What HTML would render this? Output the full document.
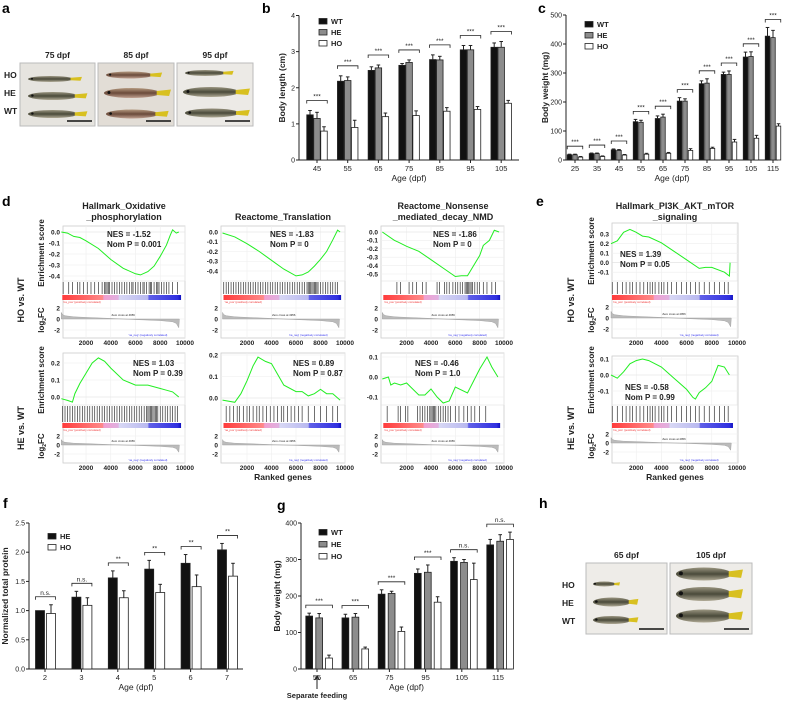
<!DOCTYPE html>
<html><head><meta charset="utf-8"><style>
html,body{margin:0;padding:0;background:#fff;}
svg{display:block;font-family:"Liberation Sans",Arial,sans-serif;}
</style></head><body>
<svg id="fig" width="786" height="701" viewBox="0 0 786 701" xmlns="http://www.w3.org/2000/svg">
<defs>
<linearGradient id="fishBody" x1="0" y1="0" x2="0" y2="1"><stop offset="0" stop-color="#9a9580"/><stop offset="0.5" stop-color="#4a4a3a"/><stop offset="1" stop-color="#b0aa95"/></linearGradient>
<linearGradient id="fishBody2" x1="0" y1="0" x2="0" y2="1"><stop offset="0" stop-color="#b59a80"/><stop offset="0.5" stop-color="#6a4a3a"/><stop offset="1" stop-color="#c0a090"/></linearGradient>
<linearGradient id="cbar" x1="0" y1="0" x2="1" y2="0"><stop offset="0" stop-color="#ff3b3b"/><stop offset="0.34" stop-color="#ff8a8a"/><stop offset="0.35" stop-color="#f0a0d0"/><stop offset="0.47" stop-color="#e0b0e0"/><stop offset="0.48" stop-color="#d8d8f4"/><stop offset="0.72" stop-color="#b8b8f0"/><stop offset="0.73" stop-color="#6060e8"/><stop offset="0.97" stop-color="#3030e0"/><stop offset="1" stop-color="#1010c0"/></linearGradient>
</defs>
</svg>
<script>
// ---------- bar chart data ----------
const bCats=['45','55','65','75','85','95','105'];
const bWT=[1.25,2.18,2.48,2.62,2.78,3.05,3.12];
const bHE=[1.15,2.2,2.55,2.7,2.77,3.05,3.12];
const bHO=[0.8,0.9,1.2,1.23,1.35,1.4,1.57];
const bWTe=[0.12,0.15,0.1,0.05,0.13,0.12,0.12];
const bHEe=[0.17,0.1,0.08,0.07,0.1,0.12,0.16];
const bHOe=[0.12,0.2,0.1,0.13,0.1,0.08,0.08];
const bSig=['***','***','***','***','***','***','***'];
const bTicks=[0,1,2,3,4];

const cCats=['25','35','45','55','65','75','85','95','105','115'];
const cWT=[18,22,35,132,143,203,263,295,355,427];
const cHE=[18,22,33,130,148,203,265,295,357,422];
const cHO=[10,12,17,20,23,33,40,62,75,117];
const cWTe=[2,2,3,8,9,12,10,8,17,30];
const cHEe=[2,2,3,7,10,8,15,12,16,25];
const cHOe=[2,2,2,3,3,6,4,9,10,8];
const cSig=['***','***','***','***','***','***','***','***','***','***'];
const cTicks=[0,100,200,300,400,500];

const fCats=['2','3','4','5','6','7'];
const fHE=[1.0,1.23,1.56,1.71,1.81,2.04];
const fHO=[0.95,1.09,1.22,1.31,1.41,1.59];
const fHEe=[0,0.1,0.12,0.15,0.15,0.11];
const fHOe=[0.15,0.13,0.12,0.14,0.2,0.22];
const fSig=['n.s.','n.s.','**','**','**','**'];
const fTicks=[0,0.5,1.0,1.5,2.0,2.5];

const gCats=['55','65','75','95','105','115'];
const gWT=[145,140,205,262,295,340];
const gHE=[140,142,207,265,292,350];
const gHO=[30,55,103,183,245,355];
const gWTe=[8,10,12,12,10,15];
const gHEe=[12,10,6,20,8,18];
const gHOe=[8,5,12,15,45,20];
const gSig=['***','***','***','***','n.s.','n.s.'];
const gTicks=[0,100,200,300,400];

// ---------- GSEA data ----------
const rankTicks=[2000,4000,6000,8000,10000];
const p1tR=[0,500,1000,1500,2000,3000,4000,5000,6000,6400,7000,7500,8000,8500,8800,9000,9300,9500];
const p1tES=[0,-0.01,-0.04,-0.05,-0.08,-0.15,-0.25,-0.33,-0.38,-0.39,-0.36,-0.31,-0.22,-0.12,-0.03,0.02,-0.01,0.0];
const p2tR=[0,1000,2000,3000,4000,5000,6000,6500,7000,7500,8000,8500,9000,9400,9600];
const p2tES=[-0.01,-0.05,-0.12,-0.2,-0.29,-0.38,-0.45,-0.44,-0.41,-0.35,-0.28,-0.2,-0.08,0.02,0.0];
const p3tR=[0,1000,1300,2000,3000,4000,5000,6000,6500,7000,7500,8000,8300,8800,9200,9600];
const p3tES=[0,-0.1,-0.12,-0.17,-0.23,-0.33,-0.43,-0.53,-0.52,-0.52,-0.4,-0.28,-0.16,-0.1,0.02,0.0];
const etR=[0,500,1000,1500,2000,2500,3000,4000,5000,6000,7000,7500,8000,9000,9400,9450];
const etES=[0.2,0.23,0.32,0.35,0.32,0.28,0.27,0.21,0.12,0.03,-0.06,-0.05,-0.05,-0.1,-0.14,0.0];
const p1bR=[0,500,900,1100,1500,2000,2500,3000,3500,4000,5000,6000,7000,8000,8500,9000,9500];
const p1bES=[-0.01,-0.02,-0.03,0.02,0.08,0.14,0.2,0.23,0.21,0.17,0.1,0.07,0.07,0.05,0.04,0.03,0.0];
const p2bR=[0,1000,1500,2000,2500,2900,3500,4000,5000,6000,6500,7000,7500,8000,8500,9000,9600];
const p2bES=[-0.01,-0.02,0.02,0.08,0.15,0.19,0.17,0.16,0.06,0.03,0.03,0.01,0.02,0.04,0.02,0.02,-0.01];
const p3bR=[0,500,700,1000,1500,2000,2500,3000,3500,4000,4500,5000,5500,6000,7000,7500,8000,8600,9000,9500];
const p3bES=[-0.01,0.0,-0.04,-0.03,-0.04,-0.03,-0.06,-0.09,-0.09,-0.06,-0.1,-0.13,-0.12,-0.05,-0.08,-0.02,0.04,0.1,0.05,0.0];
const ebR=[0,500,1000,1500,2000,2500,3000,4000,5000,6000,6500,6700,7000,7500,8000,8500,9000,9400];
const ebES=[0,-0.02,0.02,0.07,0.09,0.1,0.09,0.05,-0.02,-0.09,-0.14,-0.15,-0.11,-0.08,-0.04,0.06,0.05,0.0];
const hitsA=[150,600,900,1300,1500,1800,2100,2400,2700,3000,3300,3500,3600,3700,3800,3900,4100,4300,4500,4700,4900,5100,5300,5500,5700,5800,6000,6200,6400,6600,6700,6900,7100,7200,7300,7500,7700,7800,7900,8100,8300,8500,8700,9000,9400];
const hitsB=[100,300,500,700,900,1100,1300,1500,1700,1900,2100,2300,2500,2700,2900,3100,3300,3500,3700,3900,4100,4300,4500,4700,4900,5100,5300,5500,5700,5900,6100,6300,6500,6700,6900,7000,7100,7200,7300,7400,7500,7600,7700,7800,8000,8200,8400,8600,8800,9000,9200,9400];
const hitsC=[1200,1500,2200,2500,2800,3300,3600,4500,4700,5100,5300,5500,5800,6000,6200,6400,6600,6800,6900,7000,7100,7200,7300,7400,7600,7800,8000,8300,8600,9000,9300];
const hitsD=[100,500,900,1200,1500,1700,2000,2300,2600,2900,3100,3300,3500,3800,4000,4200,4500,4800,5200,5600,6000,6300,6700,7000,7400,7800,8200,8600,9000,9300];
const hitsE=[300,600,900,1200,1400,1700,2000,2200,2500,2800,3000,3300,3600,3900,4200,4500,4800,5000,5300,5600,5900,6200,6500,7000,7500,8000,8500,9000,9400];
const hitsF=[400,1300,1500,1900,2100,2900,3100,3300,3500,3700,3900,4000,4100,4200,4300,4400,4600,4800,5000,5200,5400,5600,6000,6300,6700,7000,7300,7600,8000,8500];
const fcR=[0,100,300,1000,2000,3000,4000,5000,6000,7000,8000,9000,9300,9500,9550];
const fcV=[1.2,0.8,0.6,0.4,0.3,0.2,0.1,0,-0.1,-0.2,-0.3,-0.5,-0.8,-1.6,0];

// ---------- helpers ----------
const NS='http://www.w3.org/2000/svg';
const root=document.getElementById('fig');
function mk(tag,attrs,name,parent){
  const el=document.createElementNS(NS,tag);
  for(const k in attrs) el.setAttribute(k,attrs[k]);
  
  
  (parent||root).appendChild(el);
  return el;
}
function txt(x,y,s,size,name,opt){
  opt=opt||{};
  const t=mk('text',{x:x,y:y,'font-size':size,'font-weight':opt.w||'bold','text-anchor':opt.a||'start',fill:opt.fill||'#222'},name,opt.p);
  if(opt.rot){t.setAttribute('transform','rotate(-90 '+x+' '+y+')');}
  t.textContent=s;
  return t;
}

// ---------- bar chart ----------
function barChart(cfg){
  const g=mk('g',{},cfg.name);
  const ys=v=>cfg.y0-(v/cfg.ymax)*(cfg.y0-cfg.yTop);
  mk('line',{x1:cfg.ax,y1:cfg.yTop,x2:cfg.ax,y2:cfg.y0,stroke:'#222','stroke-width':1},'y-axis',g);
  mk('line',{x1:cfg.ax,y1:cfg.y0,x2:cfg.axEnd,y2:cfg.y0,stroke:'#222','stroke-width':1},'x-axis',g);
  cfg.ticks.forEach(t=>{
    const y=ys(t);
    mk('line',{x1:cfg.ax-3,y1:y,x2:cfg.ax,y2:y,stroke:'#222'},'y-tick',g);
    txt(cfg.ax-4,y+2.5,cfg.tickFmt?cfg.tickFmt(t):String(t),7,'y-tick-label',{a:'end',p:g,w:'normal'});
  });
  cfg.cats.forEach((c,i)=>{
    const cx=cfg.cx0+i*cfg.step;
    mk('line',{x1:cx,y1:cfg.y0,x2:cx,y2:cfg.y0+3,stroke:'#222'},'x-tick',g);
    txt(cx,cfg.y0+11,c,7.5,'x-tick-label',{a:'middle',p:g,w:'normal'});
    let mx=0;
    cfg.series.forEach((s,j)=>{
      const v=s.vals[i],e=s.errs[i];
      const x=cx+cfg.offs[j]-cfg.bw/2;
      const y=ys(v);
      if(e>0){
        mk('line',{x1:cx+cfg.offs[j],y1:y,x2:cx+cfg.offs[j],y2:ys(v+e),stroke:'#222','stroke-width':1},'error-bar',g);
        mk('line',{x1:cx+cfg.offs[j]-1.8,y1:ys(v+e),x2:cx+cfg.offs[j]+1.8,y2:ys(v+e),stroke:'#222','stroke-width':1},'error-cap',g);
      }
      mk('rect',{x:x,y:y,width:cfg.bw,height:cfg.y0-y,fill:s.fill,stroke:'#222','stroke-width':0.8},'bar-'+s.key+'-'+c,g);
      mx=Math.max(mx,v+e);
    });
    const bl=cx+cfg.offs[0]-cfg.bw/2, br=cx+cfg.offs[cfg.offs.length-1]+cfg.bw/2;
    const by=ys(mx)-cfg.sigGap;
    mk('path',{d:'M'+bl+' '+(by+3)+'V'+by+'H'+br+'V'+(by+3),fill:'none',stroke:'#222','stroke-width':0.8},'significance-bracket',g);
    txt((bl+br)/2,by-2,cfg.sig[i],6.5,'significance-label',{a:'middle',p:g,w:'normal'});
  });
  cfg.series.forEach((s,j)=>{
    const ly=cfg.legY+j*cfg.legStep;
    mk('rect',{x:cfg.legX,y:ly-3.5,width:8,height:5.5,fill:s.fill,stroke:'#222','stroke-width':0.8},'legend-swatch-'+s.key,g);
    txt(cfg.legX+12,ly+2,s.label,7.5,'legend-label-'+s.key,{p:g});
  });
  txt(cfg.ylx,(cfg.yTop+cfg.y0)/2,cfg.ylabel,8.5,'y-axis-title',{a:'middle',rot:true,p:g});
  txt((cfg.ax+cfg.axEnd)/2,cfg.xly,'Age (dpf)',8.5,'x-axis-title',{a:'middle',p:g,w:'normal'});
}

barChart({name:'panel-b-body-length',ax:299,axEnd:519,y0:160,yTop:15.5,ymax:4,ticks:bTicks,cats:bCats,cx0:317,step:30.7,bw:6.5,offs:[-7,0,7],
  series:[{key:'wt',label:'WT',vals:bWT,errs:bWTe,fill:'#111'},{key:'he',label:'HE',vals:bHE,errs:bHEe,fill:'#8c8c8c'},{key:'ho',label:'HO',vals:bHO,errs:bHOe,fill:'#fff'}],
  sig:bSig,sigGap:10,legX:319,legY:22,legStep:11,ylx:285,ylabel:'Body length (cm)',xly:181});
barChart({name:'panel-c-body-weight',ax:566,axEnd:778,y0:160,yTop:15,ymax:500,ticks:cTicks,cats:cCats,cx0:575,step:22,bw:4.5,offs:[-5.5,0,5.5],
  series:[{key:'wt',label:'WT',vals:cWT,errs:cWTe,fill:'#111'},{key:'he',label:'HE',vals:cHE,errs:cHEe,fill:'#8c8c8c'},{key:'ho',label:'HO',vals:cHO,errs:cHOe,fill:'#fff'}],
  sig:cSig,sigGap:8,legX:585,legY:25,legStep:11,ylx:548,ylabel:'Body weight (mg)',xly:181});
barChart({name:'panel-f-total-protein',ax:29,axEnd:243,y0:669,yTop:523,ymax:2.5,ticks:fTicks,tickFmt:t=>t.toFixed(1),cats:fCats,cx0:45,step:36.4,bw:9,offs:[-5,6],
  series:[{key:'he',label:'HE',vals:fHE,errs:fHEe,fill:'#111'},{key:'ho',label:'HO',vals:fHO,errs:fHOe,fill:'#fff'}],
  sig:fSig,sigGap:8,legX:48,legY:537,legStep:11,ylx:8,ylabel:'Normalized total protein',xly:690});
barChart({name:'panel-g-body-weight-feeding',ax:301,axEnd:512,y0:669,yTop:523,ymax:400,ticks:gTicks,cats:gCats,cx0:317,step:36.2,bw:6.8,offs:[-7.8,2.2,12],
  series:[{key:'wt',label:'WT',vals:gWT,errs:gWTe,fill:'#111'},{key:'he',label:'HE',vals:gHE,errs:gHEe,fill:'#8c8c8c'},{key:'ho',label:'HO',vals:gHO,errs:gHOe,fill:'#fff'}],
  sig:gSig,sigGap:8,legX:319,legY:533,legStep:12,ylx:280,ylabel:'Body weight (mg)',xly:690});
mk('path',{d:'M317 689V677M314.5 680L317 676L319.5 680',fill:'none',stroke:'#222','stroke-width':1},'separate-feeding-arrow');
txt(317,698,'Separate feeding',7.5,'separate-feeding-label',{a:'middle'});

// ---------- GSEA ----------
function gsea(c){
  const g=mk('g',{},c.name);
  const xr=r=>c.xs0+r*(c.xs1-c.xs0)/10000;
  const ye=v=>c.zeroY-v*c.per01*10;
  const yf=v=>c.fc0-v*c.fcUnit;
  mk('rect',{x:c.bx0,y:c.esTop,width:c.bx1-c.bx0,height:c.fcBot-c.esTop,fill:'#fff',stroke:'#ccc','stroke-width':0.8},'plot-frame',g);
  rankTicks.forEach(r=>{
    mk('line',{x1:xr(r),y1:c.esTop,x2:xr(r),y2:c.esBot,stroke:'#eee','stroke-width':0.6},'grid-v',g);
    mk('line',{x1:xr(r),y1:c.fcTop,x2:xr(r),y2:c.fcBot,stroke:'#eee','stroke-width':0.6},'grid-v',g);
    txt(xr(r),c.fcBot+7,String(r),6.5,'rank-tick-label',{a:'middle',p:g});
  });
  c.ticks.forEach(t=>{
    mk('line',{x1:c.bx0,y1:ye(t),x2:c.bx1,y2:ye(t),stroke:t===0?'#ddd':'#eee','stroke-width':0.6},'grid-h',g);
    txt(c.bx0-3,ye(t)+2.3,t.toFixed(1),6.5,'es-tick-label',{a:'end',p:g});
  });
  mk('line',{x1:c.bx0,y1:c.esBot,x2:c.bx1,y2:c.esBot,stroke:'#ddd','stroke-width':0.6},'es-divider',g);
  let d='';
  c.r.forEach((r,i)=>{d+=(i?'L':'M')+xr(r).toFixed(1)+' '+ye(c.es[i]).toFixed(1);});
  mk('path',{d:d,fill:'none',stroke:'#22ee22','stroke-width':1},'enrichment-curve',g);
  c.hits.forEach(h=>{mk('line',{x1:xr(h),y1:c.esBot+1,x2:xr(h),y2:c.barTop-1,stroke:'#333','stroke-width':0.7},'gene-hit',g);});
  mk('rect',{x:xr(0)+1,y:c.barTop,width:xr(9600)-xr(0),height:5,fill:'url(#cbar)'},'rank-colorbar',g);
  txt(xr(150),c.barTop+8,"'na_pos' (positively correlated)",2.8,'pos-label',{fill:'#e33',w:'normal',p:g});
  [2,0,-2].forEach(t=>{
    mk('line',{x1:c.bx0,y1:yf(t),x2:c.bx1,y2:yf(t),stroke:'#eee','stroke-width':0.6},'grid-h',g);
    txt(c.bx0-3,yf(t)+2.3,String(t),6.5,'fc-tick-label',{a:'end',p:g});
  });
  let f='M'+xr(0)+' '+yf(0);
  fcR.forEach((r,i)=>{f+='L'+xr(r).toFixed(1)+' '+yf(fcV[i]).toFixed(1);});
  mk('path',{d:f+'Z',fill:'#bbb',stroke:'#999','stroke-width':0.4},'log2fc-area',g);
  txt(xr(5000),yf(0)-3,'Zero cross at 4956',2.8,'zero-cross-label',{a:'middle',w:'normal',p:g});
  txt(xr(7000),c.fcBot-2,"'na_neg' (negatively correlated)",2.8,'neg-label',{a:'middle',w:'normal',fill:'#33e',p:g});
  txt(c.nx,c.ny,c.nes,8,'nes-label',{p:g});
  txt(c.nx,c.ny+10,c.nomp,8,'nom-p-label',{p:g});
}
const topRow={esTop:226,esBot:281,barTop:295,fcTop:300,fcBot:338,fc0:319,fcUnit:5.5};
const botRow={esTop:353,esBot:405,barTop:423,fcTop:428,fcBot:463,fc0:445,fcUnit:4.5};
gsea(Object.assign({name:'gsea-oxphos-ho',bx0:63,bx1:185,xs0:61.3,xs1:185,zeroY:232,per01:11,ticks:[0,-0.1,-0.2,-0.3,-0.4],r:p1tR,es:p1tES,hits:hitsA,nes:'NES = -1.52',nomp:'Nom P = 0.001',nx:107,ny:237},topRow));
gsea(Object.assign({name:'gsea-translation-ho',bx0:221,bx1:345,xs0:222.5,xs1:345,zeroY:232,per01:9.75,ticks:[0,-0.1,-0.2,-0.3,-0.4],r:p2tR,es:p2tES,hits:hitsB,nes:'NES = -1.83',nomp:'Nom P = 0',nx:270,ny:237},topRow));
gsea(Object.assign({name:'gsea-nmd-ho',bx0:381,bx1:504,xs0:382.3,xs1:504,zeroY:232,per01:8.4,ticks:[0,-0.1,-0.2,-0.3,-0.4,-0.5],r:p3tR,es:p3tES,hits:hitsC,nes:'NES = -1.86',nomp:'Nom P = 0',nx:433,ny:237},topRow));
gsea(Object.assign({name:'gsea-mtor-ho',bx0:612,bx1:738,xs0:611,xs1:737,zeroY:262.7,per01:9.5,ticks:[0.3,0.2,0.1,0,-0.1],r:etR,es:etES,hits:hitsD,nes:'NES = 1.39',nomp:'Nom P = 0.05',nx:620,ny:257},topRow,{esTop:223,fc0:318}));
gsea(Object.assign({name:'gsea-oxphos-he',bx0:63,bx1:185,xs0:61.3,xs1:185,zeroY:397,per01:17,ticks:[0.2,0.1,0],r:p1bR,es:p1bES,hits:hitsB,nes:'NES = 1.03',nomp:'Nom P = 0.39',nx:133,ny:366},botRow));
gsea(Object.assign({name:'gsea-translation-he',bx0:221,bx1:345,xs0:222.5,xs1:345,zeroY:398,per01:21.5,ticks:[0.2,0.1,0],r:p2bR,es:p2bES,hits:hitsE,nes:'NES = 0.89',nomp:'Nom P = 0.87',nx:293,ny:366},botRow));
gsea(Object.assign({name:'gsea-nmd-he',bx0:381,bx1:504,xs0:382.3,xs1:504,zeroY:377,per01:20,ticks:[0.1,0,-0.1],r:p3bR,es:p3bES,hits:hitsF,nes:'NES = -0.46',nomp:'Nom P = 1.0',nx:415,ny:366},botRow));
gsea(Object.assign({name:'gsea-mtor-he',bx0:612,bx1:738,xs0:611,xs1:737,zeroY:375,per01:16,ticks:[0.1,0,-0.1],r:ebR,es:ebES,hits:hitsD,nes:'NES = -0.58',nomp:'Nom P = 0.99',nx:625,ny:390},botRow,{esTop:356,fc0:443}));

// titles and row labels
txt(124,209,'Hallmark_Oxidative',9,'gsea-title-oxphos-1',{a:'middle'});
txt(124,220,'_phosphorylation',9,'gsea-title-oxphos-2',{a:'middle'});
txt(283,220,'Reactome_Translation',9,'gsea-title-translation',{a:'middle'});
txt(443,209,'Reactome_Nonsense',9,'gsea-title-nmd-1',{a:'middle'});
txt(443,220,'_mediated_decay_NMD',9,'gsea-title-nmd-2',{a:'middle'});
txt(675,209,'Hallmark_PI3K_AKT_mTOR',9,'gsea-title-mtor-1',{a:'middle'});
txt(675,220,'_signaling',9,'gsea-title-mtor-2',{a:'middle'});
[[24,'HO vs. WT',300],[24,'HE vs. WT',428],[574,'HO vs. WT',300],[574,'HE vs. WT',428]].forEach(a=>txt(a[0],a[2],a[1],9,'row-label',{a:'middle',rot:true}));
[[44,253],[44,380],[594,251],[594,380]].forEach(a=>txt(a[0],a[1],'Enrichment score',8,'es-axis-title',{a:'middle',rot:true}));
[[44,320],[44,446],[594,320],[594,446]].forEach(a=>{const t=txt(a[0],a[1],'log',8,'log2fc-axis-title',{a:'middle',rot:true});const s=document.createElementNS(NS,'tspan');s.setAttribute('font-size','5');s.setAttribute('dy','2');s.textContent='2';t.appendChild(s);const s2=document.createElementNS(NS,'tspan');s2.setAttribute('dy','-2');s2.textContent='FC';t.appendChild(s2);});
txt(283,480,'Ranked genes',8.5,'x-axis-title-ranked',{a:'middle'});
txt(675,480,'Ranked genes',8.5,'x-axis-title-ranked-e',{a:'middle'});

// panel letters
[['a',2,13],['b',262,13],['c',538,13],['d',2,206],['e',536,206],['f',3,508],['g',277,510],['h',539,508]].forEach(p=>txt(p[1],p[2],p[0],14,'panel-letter-'+p[0],{fill:'#000'}));

// ---------- fish photos ----------
function fish(x,y,len,h,name,body,p){
  const g=mk('g',{},name,p);
  mk('ellipse',{cx:x+len*0.45,cy:y,rx:len*0.45,ry:h/2,fill:body},'fish-body',g);
  mk('path',{d:'M'+(x+len*0.85)+' '+(y-h*0.2)+'L'+(x+len*1.08)+' '+(y-h*0.35)+'L'+(x+len*1.05)+' '+(y+h*0.3)+'L'+(x+len*0.85)+' '+(y+h*0.2)+'Z',fill:'#d8c020'},'fish-tail',g);
  mk('circle',{cx:x+len*0.08,cy:y-h*0.05,r:Math.max(1,h*0.15),fill:'#111'},'fish-eye',g);
}
function photo(x,y,w,h,label,name,fishes,bg,body){
  const g=mk('g',{},name);
  mk('rect',{x:x,y:y,width:w,height:h,fill:bg,stroke:'#bbb','stroke-width':1},'photo-frame',g);
  txt(x+w/2,y-5,label,8.5,'photo-label',{a:'middle',p:g});
  fishes.forEach((f,i)=>fish(x+f[0],y+f[1],f[2],f[3],'fish-'+i,body,g));
  mk('line',{x1:x+w-28,y1:y+h-5,x2:x+w-3,y2:y+h-5,stroke:'#111','stroke-width':1.5},'scale-bar',g);
}
photo(20,63,75,63,'75 dpf','photo-75dpf',[[8,16,50,6],[8,33,55,8],[8,51,55,8]],'#e6e4df','url(#fishBody)');
photo(98,63,76,63,'85 dpf','photo-85dpf',[[8,12,52,7],[6,30,62,10],[8,51,58,9]],'#e2ddd6','url(#fishBody2)');
photo(177,63,76,63,'95 dpf','photo-95dpf',[[8,10,45,6],[6,29,62,10],[8,50,60,9]],'#eceae6','url(#fishBody)');
[['HO',78],['HE',96],['WT',114]].forEach(l=>txt(4,l[1],l[0],8.5,'genotype-label-a'));
photo(586,563,81,71,'65 dpf','photo-65dpf',[[7,21,25,5],[7,39,42,9],[7,57,42,8]],'#eeece8','url(#fishBody)');
photo(670,563,82,71,'105 dpf','photo-105dpf',[[6,11,62,13],[6,31,62,14],[6,53,62,13]],'#eeece8','url(#fishBody)');
[['HO',588],['HE',606],['WT',624]].forEach(l=>txt(562,l[1],l[0],8.5,'genotype-label-h'));
</script>
</body></html>
